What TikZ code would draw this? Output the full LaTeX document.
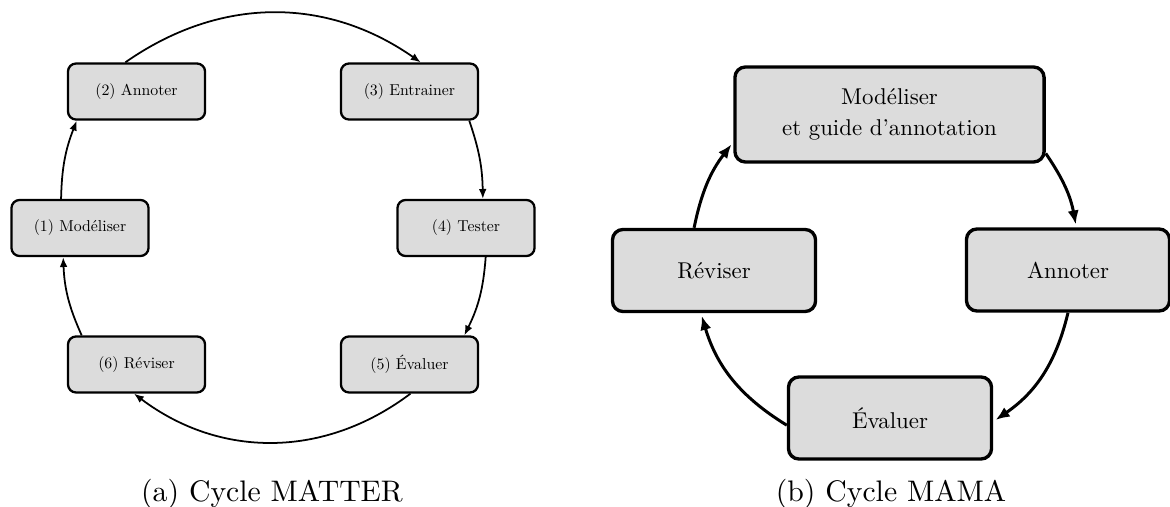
\documentclass[tikz,border=0pt]{standalone}
\usetikzlibrary{arrows.meta}
\definecolor{fondgris}{RGB}{220,220,220}

% Latin Modern 10 pt design, whatever the size asked for
\DeclareFontFamily{TU}{lmdix}{}
\DeclareFontShape{TU}{lmdix}{m}{n}{<-> "[lmroman10-regular]:+tlig;"}{}
\newcommand{\policeetape}{\fontfamily{lmdix}\fontsize{4.5}{5.5}\selectfont}
\newcommand{\policephase}{\fontfamily{lmdix}\fontsize{6.5}{8.6}\selectfont}
\newcommand{\policelegende}{\fontfamily{lmdix}\fontsize{8.45}{10}\selectfont}

\begin{document}
\begin{tikzpicture}[x=0.01cm, y=0.01cm]
        \tikzstyle{etape}=[draw, fill=fondgris, rounded corners=2.3pt, line width=0.65pt, minimum width=1.37cm, minimum height=0.56cm, inner sep=0, font=\policeetape];
        \tikzstyle{phase}=[draw, fill=fondgris, rounded corners=3pt, line width=0.95pt, minimum width=2.03cm, minimum height=0.82cm, inner sep=0, align=center, font=\policephase];
        \tikzstyle{fleche}=[-{Latex[length=2.8pt, width=2.2pt]}, line width=0.5pt];
        \tikzstyle{grossefleche}=[-{Latex[length=4pt, width=3.2pt]}, line width=0.85pt, shorten >=0.8pt];
        \tikzstyle{legende}=[anchor=base, inner sep=0, font=\policelegende];

        \useasboundingbox (0,0) rectangle (1170,506);

        % cycle MATTER : six etapes autour d'un cercle
        \coordinate (C) at (273,278);
        \foreach \a/\t [count=\i] in {180/Modéliser, 135/Annoter, 45/Entrainer, 0/Tester, -45/Évaluer, -135/Réviser}{
          \node[etape] (m\i) at ([shift={(\a:193)}]C) {(\i) \t};
        }
        \foreach \i/\j/\u/\v/\b in {1/2/123/206/10, 2/3/111/69/35, 3/4/334/60/9, 4/5/304/28/11, 5/6/272/265/37, 6/1/152/240/11}{
          \draw[fleche] (m\i.\u) to[bend left=\b] (m\j.\v);
        }
        \node[legende] (capA) at (272,5) {(a) Cycle MATTER};

        % cycle MAMA : quatre phases
        \node[phase, minimum width=3.09cm, minimum height=0.95cm] (modeliser) at (889.5,391.5) {Modéliser\\et guide d’annotation};
        \node[phase] (annoter) at (1068,236) {Annoter};
        \node[phase] (evaluer) at (890,88) {Évaluer};
        \node[phase] (reviser) at (714,235.5) {Réviser};

        \draw[grossefleche] (reviser.115) to[bend left=13] (modeliser.190);
        \draw[grossefleche] (modeliser.346) to[bend left=12] (annoter.79);
        \draw[grossefleche] (annoter.south) to[bend left=21] (evaluer.358);
        \draw[grossefleche] (evaluer.184) to[bend left=21] (reviser.253);
        \node[legende] (capB) at (891,5) {(b) Cycle MAMA};
\end{tikzpicture}
\end{document}
